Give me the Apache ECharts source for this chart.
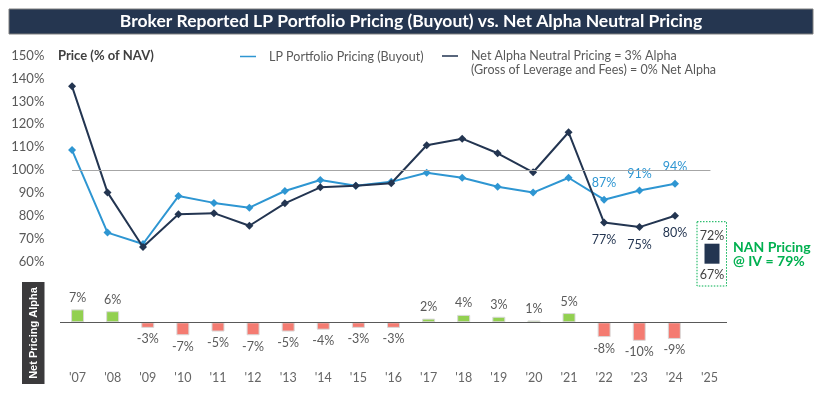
<!DOCTYPE html>
<html><head><meta charset="utf-8">
<script src="https://cdn.jsdelivr.net/npm/echarts@6/dist/echarts.min.js"></script>
<style>html,body{margin:0;padding:0;background:#fff}#c{width:823px;height:393px}</style>
</head><body><div id="c"></div>
<script>
const years = ["'07","'08","'09","'10","'11","'12","'13","'14","'15","'16","'17","'18","'19","'20","'21","'22","'23","'24","'25"];
const lpPricing = [108.7,72.6,67.6,88.6,85.6,83.5,90.8,95.6,93.1,94.8,98.8,96.6,92.7,90.1,96.6,87,91,94,null];
const nanPricing = [136.6,90.2,66.3,80.6,81.1,75.6,85.4,92.4,93.1,94.2,110.8,113.7,107.3,99.0,116.5,77,75,80,null];
const netAlpha = [7,6,-3,-7,-5,-7,-5,-4,-3,-3,2,4,3,1,5,-8,-10,-9,null];
const labelledYears = ["'22","'23","'24"];
const nanRangeYear = ["'25"];
const nanRange = [67,72];
const nanAtIV = 79;
const yTicks = {min:60, max:150, interval:10};
const parityLevel = 100;

const FONT = 'Lato';
const BLUE = '#2e96d2', NAVY = '#233551';
const lpName = 'LP Portfolio Pricing (Buyout)';
const nanName = 'Net Alpha Neutral Pricing = 3% Alpha\n(Gross of Leverage and Fees) = 0% Net Alpha';

function withLabels(arr, pos, color){
  return arr.map((v,i)=> labelledYears.includes(years[i]) ? {value:v, label:{show:true, position:pos, color:color}} : v);
}

const chart = echarts.init(document.getElementById('c'), null, {renderer:'canvas'});
chart.setOption({
  animation:false,
  textStyle:{fontFamily:FONT},
  legend:[
    {left:235, top:45, data:[lpName], icon:'rect', itemWidth:16, itemHeight:1.5,
     textStyle:{color:'#595959', fontSize:12.5, fontFamily:FONT, padding:[0,0,0,8]}},
    {left:437, top:44, data:[nanName], symbolKeepAspect:false,
     icon:'path://M0,0H0.01V0.01H0Z M0,6.25H16V7.75H0Z M0,27.99H0.01V28H0Z', itemWidth:16, itemHeight:28,
     textStyle:{color:'#595959', fontSize:12.5, fontFamily:FONT, lineHeight:14, padding:[0,0,0,8]}}
  ],
  grid:[
    {left:54.3, top:55.7, width:673.9, height:205.7},
    {left:60, top:307.5, width:667, height:37},
    {left:697, top:221.7, width:30, height:64}
  ],
  xAxis:[
    {gridIndex:0, type:'category', data:years, boundaryGap:true, show:false},
    {gridIndex:1, type:'category', data:years, boundaryGap:true,
     axisLine:{show:false}, axisTick:{show:false},
     axisLabel:{margin:27, color:'#666', fontSize:12.5, fontFamily:FONT}},
    {gridIndex:2, type:'category', data:nanRangeYear, show:false}
  ],
  yAxis:[
    {gridIndex:0, type:'value', min:yTicks.min, max:yTicks.max, interval:yTicks.interval,
     axisLine:{show:false}, axisTick:{show:false}, splitLine:{show:false},
     axisLabel:{formatter:'{value}%', color:'#595959', fontSize:13, margin:10, fontFamily:FONT}},
    {gridIndex:1, type:'value', min:-12, max:8, show:false, splitLine:{show:false}},
    {gridIndex:2, type:'value', min:61.5, max:77.5, show:false, splitLine:{show:false}}
  ],
  series:[
    {name:lpName, type:'line', xAxisIndex:0, yAxisIndex:0,
     data:withLabels(lpPricing,'top',BLUE),
     symbol:'diamond', symbolSize:8, lineStyle:{color:BLUE, width:2}, itemStyle:{color:BLUE},
     label:{show:false, formatter:p=>Math.round(p.value)+'%', fontSize:12.5, distance:6,
            backgroundColor:'#fff', padding:[0,1], fontFamily:FONT},
     markLine:{silent:true, symbol:'none', label:{show:false},
       lineStyle:{color:'#a6a6a6', width:1, type:'solid'},
       data:[[{coord:[years[0],parityLevel]},{coord:[years[years.length-1],parityLevel]}]]},
     z:3},
    {name:nanName, type:'line', xAxisIndex:0, yAxisIndex:0,
     data:withLabels(nanPricing,'bottom',NAVY),
     symbol:'diamond', symbolSize:8, lineStyle:{color:NAVY, width:2}, itemStyle:{color:NAVY},
     label:{show:false, formatter:p=>Math.round(p.value)+'%', fontSize:12.5, distance:7, fontFamily:FONT},
     z:4},
    {name:'Net Pricing Alpha', type:'bar', xAxisIndex:1, yAxisIndex:1,
     data:netAlpha.map(v=> v==null?null:{value:v, itemStyle:{color: v>=0?'#92d050':'#f47b71'},
        label:{position: v>=0?'top':'bottom'}}),
     barWidth:13,
     itemStyle:{borderColor:'#d9d9d9', borderWidth:1},
     label:{show:true, formatter:p=>p.value+'%', color:'#595959', fontSize:12.5, distance:5, fontFamily:FONT},
     markLine:{silent:true, symbol:'none', label:{show:false},
       lineStyle:{color:'#595959', width:1.2, type:'solid'}, data:[{yAxis:0}]}},
    {name:'nanBase', type:'bar', xAxisIndex:2, yAxisIndex:2, stack:'nan', barWidth:15,
     data:[nanRange[0]], itemStyle:{color:'transparent'},
     label:{show:true, position:'insideTop', distance:5, formatter:()=>nanRange[0]+'%', color:'#404040', fontSize:12.5, fontFamily:FONT}},
    {name:'nanRange', type:'bar', xAxisIndex:2, yAxisIndex:2, stack:'nan', barWidth:15,
     data:[nanRange[1]-nanRange[0]], itemStyle:{color:NAVY},
     label:{show:true, position:'top', distance:1, formatter:()=>nanRange[1]+'%', color:'#404040', fontSize:12.5, fontFamily:FONT}}
  ],
  graphic:[
    {type:'rect', shape:{x:9, y:9, width:804, height:25}, style:{fill:'#253650', stroke:'#7f7f7f', lineWidth:1}, silent:true},
    {type:'text', x:411, y:21.5, style:{text:'Broker Reported LP Portfolio Pricing (Buyout) vs. Net Alpha Neutral Pricing',
      fill:'#fff', font:'bold 17.5px Lato, sans-serif', align:'center', verticalAlign:'middle'}, silent:true},
    {type:'text', x:58, y:56, style:{text:'Price (% of NAV)', fill:'#404040', font:'bold 13px Lato', verticalAlign:'middle'}, silent:true},
    {type:'rect', shape:{x:697, y:221.7, width:29.5, height:64.3}, style:{fill:'none', stroke:'#00b050', lineWidth:1, lineDash:[1.5,1.5]}, silent:true},
    {type:'text', x:733, y:254.5, style:{text:'NAN Pricing\n@ IV = '+nanAtIV+'%', fill:'#00b050', font:'bold 14px Lato', lineHeight:14, verticalAlign:'middle'}, silent:true},
    {type:'rect', shape:{x:22, y:282, width:22.5, height:102}, style:{fill:'#3b3a3c'}, silent:true},
    {type:'text', x:33.5, y:333, rotation:Math.PI/2, style:{text:'Net Pricing Alpha', fill:'#fff', font:'bold 11px "Liberation Sans", Arial', align:'center', verticalAlign:'middle'}, silent:true}
  ]
});
</script></body></html>
